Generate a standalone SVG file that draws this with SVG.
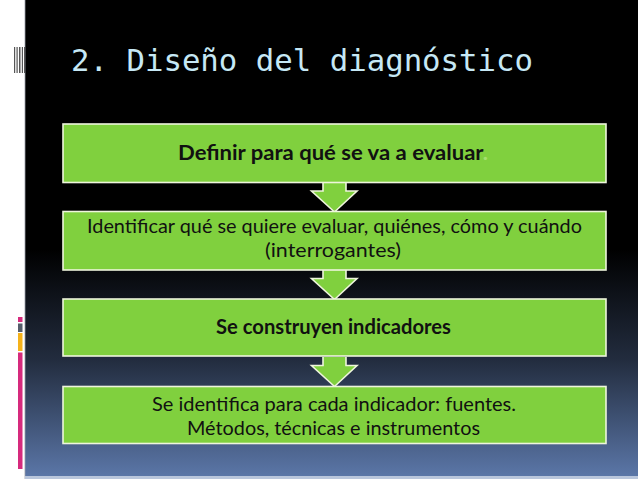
<svg xmlns="http://www.w3.org/2000/svg" width="638" height="479" viewBox="0 0 638 479">
<defs>
<linearGradient id="bg" x1="0" y1="0" x2="0" y2="1">
<stop offset="0" stop-color="#000000"/>
<stop offset="0.52" stop-color="#000000"/>
<stop offset="0.75" stop-color="#222c3e"/>
<stop offset="1" stop-color="#5c78aa"/>
</linearGradient>
<style>
.box{fill:#80d03e;stroke:#eef5dc;stroke-width:1.6}
.arr{fill:#80d03e;stroke:#eef5dc;stroke-width:1.6;stroke-linejoin:miter}
.t{font-family:Lato,"Open Sans","Liberation Sans",sans-serif;font-size:20px;fill:#111;text-anchor:middle}
.b{font-weight:bold}
.title{font-family:"DejaVu Sans Mono","Liberation Mono",monospace;font-size:30.5px;fill:#c6e8f5}
</style>
</defs>
<rect x="0" y="0" width="638" height="479" fill="#ffffff"/>
<rect x="25" y="0" width="613" height="479" fill="url(#bg)"/>
<line x1="25" y1="0" x2="25" y2="479" stroke="#9aa0a8" stroke-width="0.8"/>
<rect x="25" y="476" width="613" height="3" fill="#b9c6dc"/>
<g id="barcode" fill="#555">
<rect x="14" y="47" width="1.2" height="26"/>
<rect x="16.5" y="47" width="1.2" height="26"/>
<rect x="19" y="47" width="1.5" height="26"/>
<rect x="21.8" y="47" width="1.2" height="26"/>
<rect x="24" y="47" width="1" height="26"/>
</g>
<g id="colorbar">
<rect x="18" y="317" width="4.5" height="5" fill="#d62a7d"/>
<rect x="18" y="323.5" width="4.5" height="8.5" fill="#555d6b"/>
<rect x="18" y="333" width="4.5" height="18" fill="#f5b21a"/>
<rect x="18" y="352.5" width="4.5" height="116.5" fill="#d62a7d"/>
</g>
<text class="title" x="71" y="71" textLength="462" lengthAdjust="spacingAndGlyphs">2. Diseño del diagnóstico</text>
<g id="connectors">
<path class="arr" d="M323,182 V191 H311.5 L334.5,212 L357,191 H346 V182"/>
<path class="arr" d="M323,269.5 V278.5 H311.5 L334.5,299.5 L357,278.5 H346 V269.5"/>
<path class="arr" d="M323,357 V365.5 H311.5 L334.5,386.5 L357,365.5 H346 V357"/>
</g>
<g id="n1">
<rect class="box" x="63" y="124" width="543" height="58.5"/>
<text class="t b" x="333" y="160" textLength="310" lengthAdjust="spacingAndGlyphs">Definir para qué se va a evaluar<tspan fill="#a6e070">.</tspan></text>
</g>
<g id="n2">
<rect class="box" x="63" y="211.5" width="543" height="58.5"/>
<text class="t" x="334.5" y="233" textLength="495" lengthAdjust="spacingAndGlyphs">Identificar qué se quiere evaluar, quiénes, cómo y cuándo</text>
<text class="t" x="333" y="257" textLength="136" lengthAdjust="spacingAndGlyphs">(interrogantes)</text>
</g>
<g id="n3">
<rect class="box" x="63" y="299" width="543" height="57"/>
<text class="t b" x="333.5" y="334" textLength="235" lengthAdjust="spacingAndGlyphs">Se construyen indicadores</text>
</g>
<g id="n4">
<rect class="box" x="63" y="386.5" width="543" height="57"/>
<text class="t" x="334" y="411" textLength="364" lengthAdjust="spacingAndGlyphs">Se identifica para cada indicador: fuentes.</text>
<text class="t" x="333.5" y="435" textLength="293" lengthAdjust="spacingAndGlyphs">Métodos, técnicas e instrumentos</text>
</g>
</svg>
